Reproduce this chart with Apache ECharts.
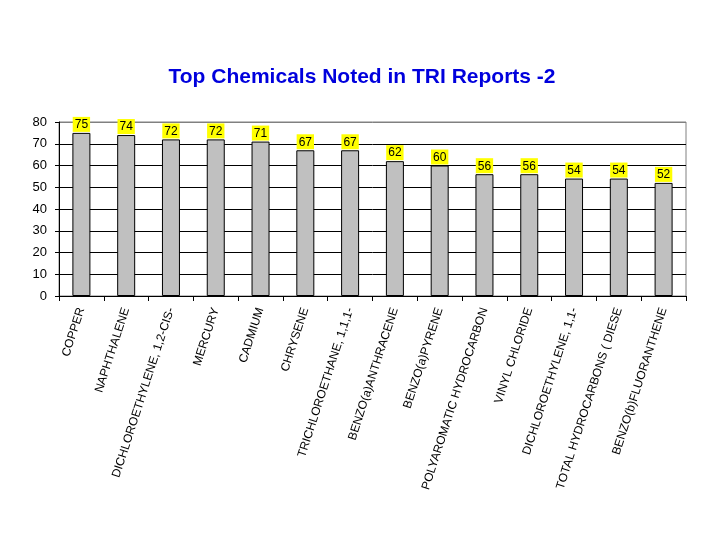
<!DOCTYPE html>
<html><head><meta charset="utf-8">
<script src="https://cdn.jsdelivr.net/npm/echarts@6/dist/echarts.min.js"></script>
<style>html,body{margin:0;padding:0;background:#fff}#c{width:720px;height:540px}</style>
</head><body><div id="c"></div>
<script>
const categories = ["COPPER","NAPHTHALENE","DICHLOROETHYLENE, 1,2-CIS-","MERCURY","CADMIUM","CHRYSENE","TRICHLOROETHANE, 1,1,1-","BENZO(a)ANTHRACENE","BENZO(a)PYRENE","POLYAROMATIC HYDROCARBON","VINYL CHLORIDE","DICHLOROETHYLENE, 1,1-","TOTAL HYDROCARBONS ( DIESE","BENZO(b)FLUORANTHENE"];
const values = [75,74,72,72,71,67,67,62,60,56,56,54,54,52];
const yTicks = [0,10,20,30,40,50,60,70,80];
const chart = echarts.init(document.getElementById('c'));
chart.setOption({
  animation:false,
  backgroundColor:'#fff',
  title:{text:'Top Chemicals Noted in TRI Reports -2',left:357,textAlign:'center',top:62,
    textStyle:{fontFamily:'Liberation Sans, Arial',fontWeight:'bold',fontSize:21,color:'#0000DD'}},
  grid:{left:59,right:34,top:122,bottom:244,show:true,borderColor:'#808080',borderWidth:1},
  xAxis:{type:'category',data:categories,
    axisLine:{lineStyle:{color:'#000'}},
    axisTick:{show:true,length:5,lineStyle:{color:'#000'}},
    axisLabel:{rotate:72,interval:0,fontFamily:'Liberation Sans, Arial',fontSize:12,color:'#000',margin:12,
      width:220,overflow:'truncate',ellipsis:''}},
  yAxis:{type:'value',min:0,max:80,interval:10,
    axisLine:{show:true,lineStyle:{color:'#000'}},
    axisTick:{show:true,length:4,lineStyle:{color:'#000'}},
    axisLabel:{fontFamily:'Liberation Sans, Arial',fontSize:13,color:'#000',margin:12,
      formatter:v=>yTicks.includes(v)?String(v):''},
    splitLine:{lineStyle:{color:['#000','#000','#000','#000','#000','#000','#000','#000','#808080'],width:1}}},
  series:[{type:'bar',data:values,barWidth:18,
    itemStyle:{color:'#C0C0C0',borderColor:'#000',borderWidth:1},
    label:{show:true,position:'top',distance:1,color:'#000',backgroundColor:'#FFFF00',
      fontFamily:'Liberation Sans, Arial',fontSize:12,padding:[2,2,1,2]}}]
});
</script></body></html>
